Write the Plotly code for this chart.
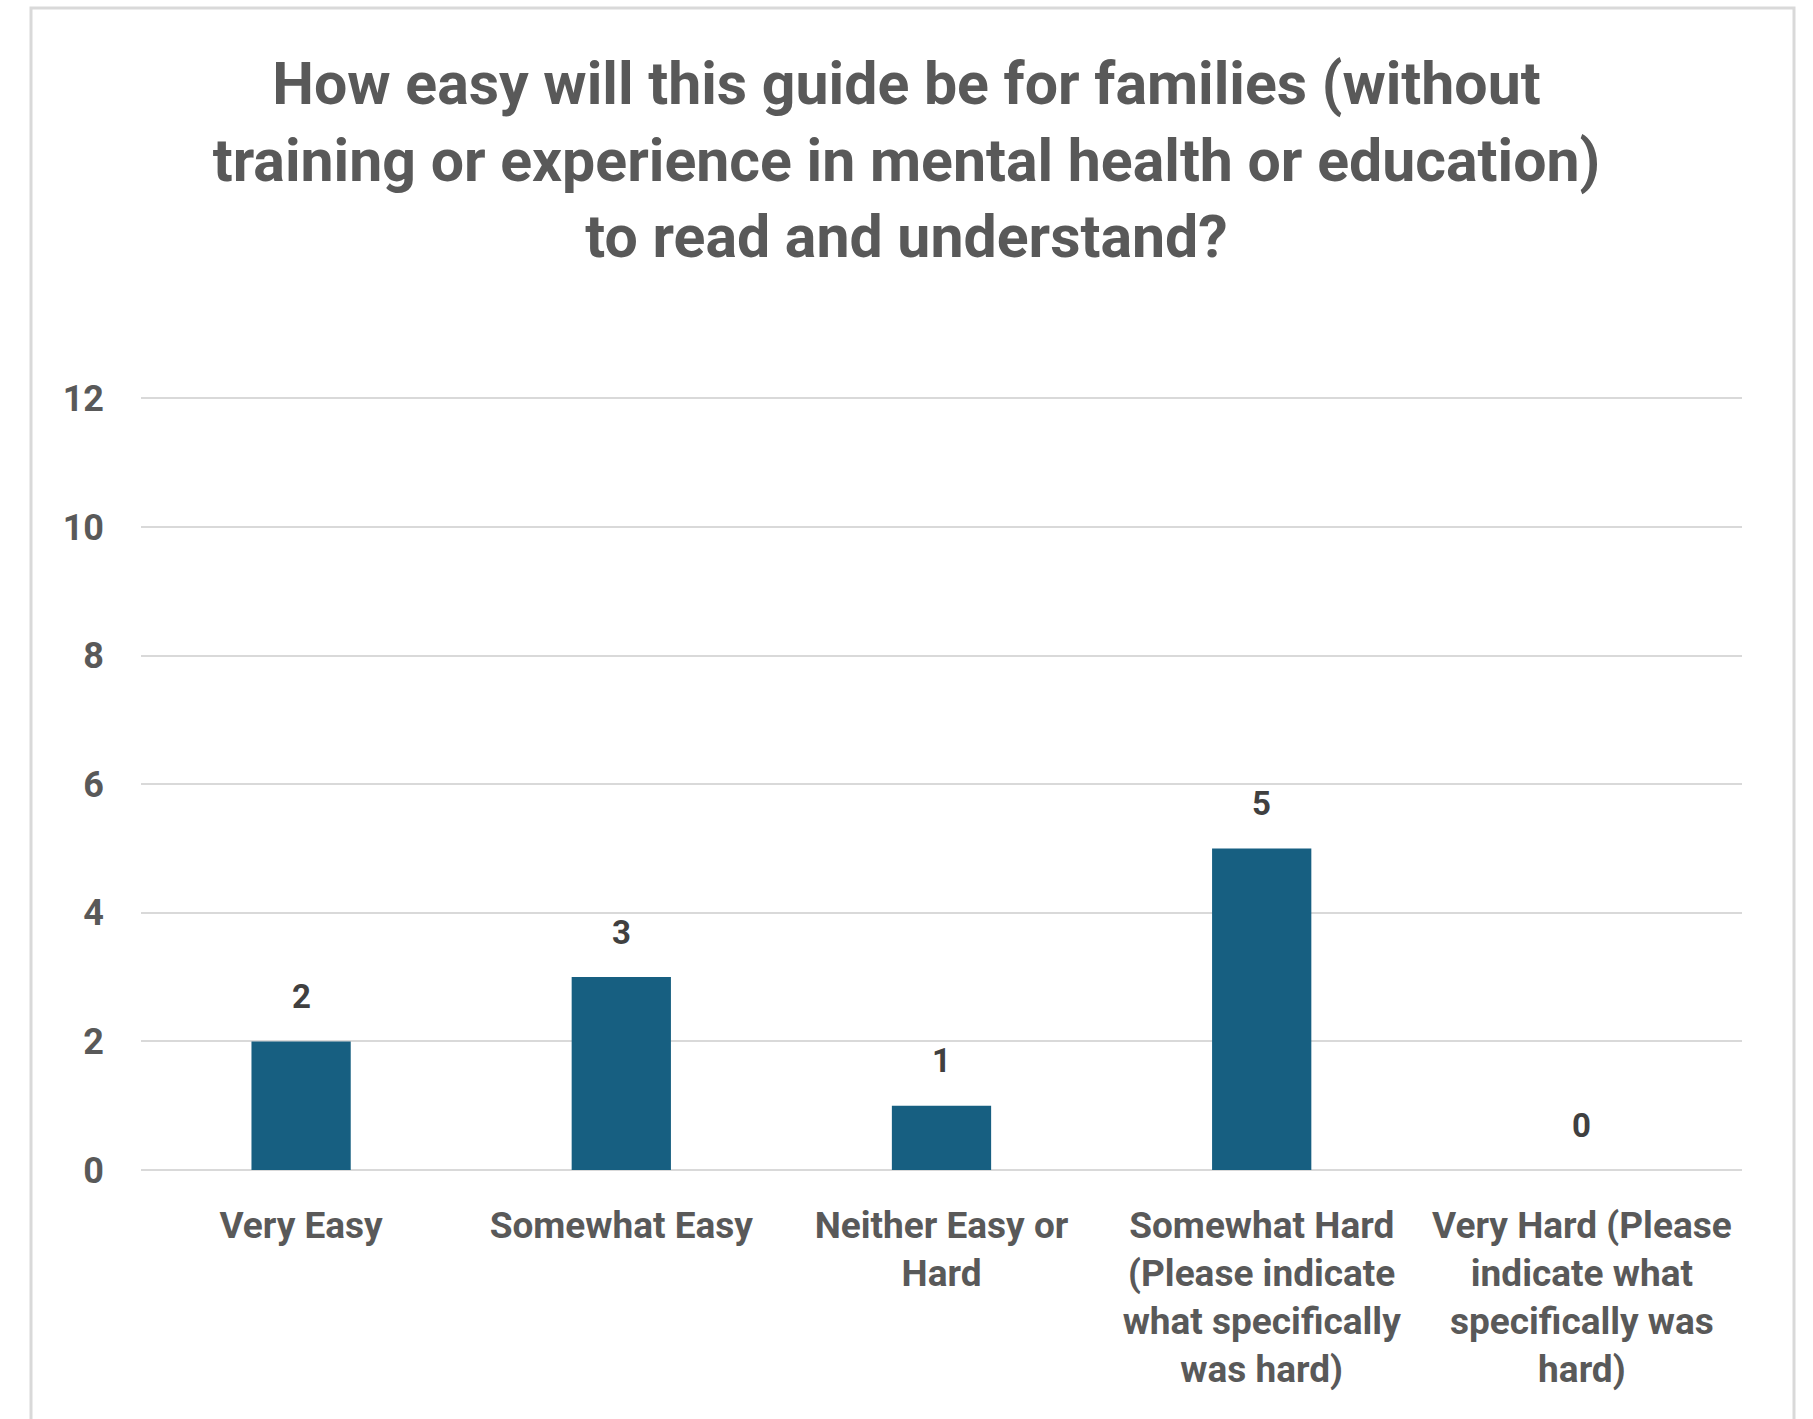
import plotly.graph_objects as go

categories = [
    "Very Easy",
    "Somewhat Easy",
    "Neither Easy or<br>Hard",
    "Somewhat Hard<br>(Please indicate<br>what specifically<br>was hard)",
    "Very Hard (Please<br>indicate what<br>specifically was<br>hard)",
]
counts = [2, 3, 1, 5, 0]
y_ticks = [0, 2, 4, 6, 8, 10, 12]

title_text = ("How easy will this guide be for families (without<br>"
              "training or experience in mental health or education)<br>"
              "to read and understand?")

NARROW = "Roboto, Liberation Sans, sans-serif"
NORMAL = "Roboto, Liberation Sans, DejaVu Sans, sans-serif"
GRAY = "#595959"

fig = go.Figure()
fig.add_trace(go.Bar(
    x=categories, y=counts,
    marker=dict(color="#175f81", line=dict(width=0)),
    hoverinfo="skip",
))

for c, v in zip(categories, counts):
    fig.add_annotation(
        x=c, y=v, xref="x", yref="y", text=str(v), showarrow=False,
        yanchor="middle", yshift=45,
        font=dict(family=NORMAL, size=33, color="#404040", weight="bold"),
    )

W, H = 1813, 1419
L, R, T, B = 141, 71, 397, 249
pw, ph = W - L - R, H - T - B

def px_x(x):
    return (x - L) / pw

def px_y(y):
    return (H - B - y) / ph

fig.add_shape(type="rect", xref="paper", yref="paper",
              x0=px_x(31), x1=px_x(1794), y0=px_y(1440), y1=px_y(8),
              line=dict(color="#d9d9d9", width=3), fillcolor="rgba(0,0,0,0)",
              layer="below")

fig.update_layout(
    width=W, height=H,
    margin=dict(l=L, r=R, t=T, b=B, autoexpand=False),
    paper_bgcolor="white", plot_bgcolor="white",
    showlegend=False,
    bargap=0.69,
    title=dict(
        text=title_text, x=0.5, xref="container", xanchor="center",
        y=1 - 104 / H, yref="container", yanchor="middle",
        font=dict(family=NARROW, size=59, color=GRAY, weight="bold"),
    ),
    xaxis=dict(
        type="category", showgrid=False, zeroline=False, showline=False,
        ticks="", tickangle=0,
        tickfont=dict(family=NARROW, size=37, color=GRAY, weight="bold"),
        ticklabelstandoff=30, fixedrange=True,
    ),
    yaxis=dict(
        range=[0, 12.02], tickvals=y_ticks, showgrid=True, gridcolor="#d9d9d9",
        gridwidth=2, zeroline=True, zerolinecolor="#d9d9d9", zerolinewidth=2,
        showline=False, ticks="",
        tickfont=dict(family=NORMAL, size=36, color=GRAY, weight="bold"),
        ticklabelstandoff=36, fixedrange=True,
    ),
)

fig.write_html("out.html")
